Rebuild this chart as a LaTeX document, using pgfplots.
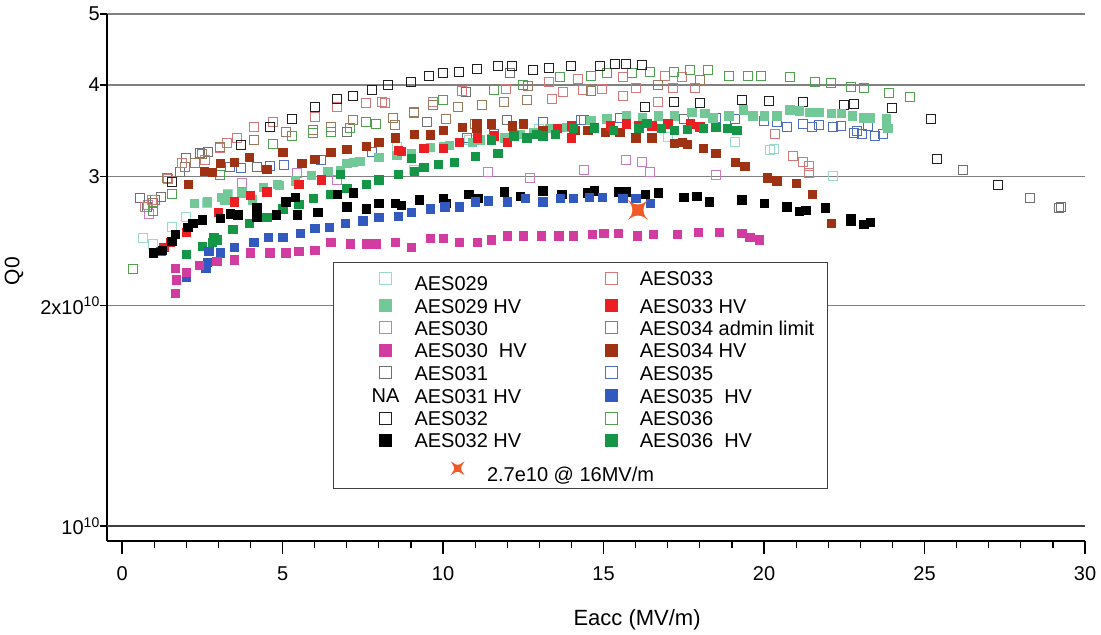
\documentclass[border=0pt]{standalone}
\usepackage{fontspec}
\setmainfont{Liberation Sans}
\usepackage{pgfplots}
\pgfplotsset{compat=1.18}

\definecolor{c029}{HTML}{9AD9CC}
\definecolor{c029hv}{HTML}{72C896}
\definecolor{c030}{HTML}{C87CBE}
\definecolor{c030hv}{HTML}{D23CA0}
\definecolor{c031}{HTML}{707070}
\definecolor{c032}{HTML}{202020}
\definecolor{c032hv}{HTML}{000000}
\definecolor{c033}{HTML}{D27878}
\definecolor{c033hv}{HTML}{EB1E23}
\definecolor{c034}{HTML}{9A7A5C}
\definecolor{c034hv}{HTML}{A03214}
\definecolor{c035}{HTML}{506EBE}
\definecolor{c035hv}{HTML}{325ABE}
\definecolor{c036}{HTML}{50A050}
\definecolor{c036hv}{HTML}{149646}
\definecolor{cstar}{HTML}{F05A28}

% four pointed star for the 16 MV/m target
\pgfdeclareplotmark{star4}{%
  \pgfpathmoveto{\pgfpoint{\pgfplotmarksize}{\pgfplotmarksize}}%
  \pgfpathquadraticcurveto{\pgfpoint{0pt}{0.15\pgfplotmarksize}}{\pgfpoint{-\pgfplotmarksize}{\pgfplotmarksize}}%
  \pgfpathquadraticcurveto{\pgfpoint{-0.15\pgfplotmarksize}{0pt}}{\pgfpoint{-\pgfplotmarksize}{-\pgfplotmarksize}}%
  \pgfpathquadraticcurveto{\pgfpoint{0pt}{-0.15\pgfplotmarksize}}{\pgfpoint{\pgfplotmarksize}{-\pgfplotmarksize}}%
  \pgfpathquadraticcurveto{\pgfpoint{0.15\pgfplotmarksize}{0pt}}{\pgfpoint{\pgfplotmarksize}{\pgfplotmarksize}}%
  \pgfpathclose
  \pgfusepathqfillstroke}

\pgfplotsset{
  op/.style={only marks, mark=square, mark size=4.5bp, mark options={line width=1bp, draw=#1, fill=none}, forget plot},
  fi/.style={only marks, mark=square*, mark size=4.2bp, mark options={draw=#1, fill=#1, line width=0.4bp}, forget plot},
}

\begin{document}
\begin{tikzpicture}
\useasboundingbox (0,0) rectangle (1101bp,635bp);
\begin{axis}[
    at={(107bp,94bp)}, anchor=south west,
    scale only axis, width=978bp, height=527bp,
    ymode=log,
    xmin=-0.47, xmax=30,
    ymin=0.9539, ymax=5,
    axis lines=left,
    axis line style={-, line width=1.3bp, black},
    xtick={0,5,...,30},
    minor x tick num=4,
    ytick={1,2,3,4,5},
    yticklabels={10\textsuperscript{10}, 2x10\textsuperscript{10}, 3, 4, 5},
    yminorticks=false,
    tick align=outside,
    major tick length=13bp, minor tick length=7bp,
    ytick style={/pgfplots/major tick length=7bp},
    tick style={line width=1.2bp, black},
    ymajorgrids,
    grid style={line width=1.3bp, black!50},
    /pgf/number format/assume math mode=true,
    tick label style={font=\fontsize{20bp}{24bp}\selectfont},
    xticklabel style={yshift=-9bp},
    yticklabel style={inner xsep=0bp, xshift=6bp},
    xlabel={Eacc (MV/m)},
    ylabel={Q0},
    xlabel style={font=\fontsize{22bp}{26bp}\selectfont, at={(axis description cs:0.542,-0.150)}, anchor=center},
    ylabel style={font=\fontsize{21bp}{25bp}\selectfont, at={(axis description cs:-0.0951,0.512)}, anchor=center},
    legend columns=2,
    legend cell align=left,
    legend image code/.code={\path[draw=none, fill=none] (-39bp,-5bp) rectangle (13bp,9bp); \draw[#1] plot coordinates {(0bp,2bp)};},
    legend style={at={(0.2311,0.5294)}, anchor=north west, draw=black!75, line width=1.2bp, fill=white,
      inner xsep=13bp, inner ysep=3bp, row sep=3.4bp,
      font=\fontsize{20bp}{24bp}\selectfont,
      nodes={inner xsep=0bp, inner ysep=0bp, text height=15bp, text depth=4bp},
      /tikz/every odd column/.append style={column sep=15bp},
      /tikz/every even column/.append style={column sep=46bp}},
]
\draw[line width=1.6bp, black!75] (axis cs:-0.47,1) -- (axis cs:30,1);

% open symbols (measurements without HV processing)
\addplot[op=c029] coordinates {(0.65,2.47)(0.97,2.43)(1.55,2.56)(2.0,2.64)(2.65,2.76)(3.3,2.84)(8.55,3.29)(9.1,3.06)(10.8,3.36)(13.0,3.48)(17.0,3.40)(19.1,3.34)(20.2,3.26)(20.3,3.27)(22.15,3.00)};
\addplot[op=c030] coordinates {(0.8,2.74)(0.85,2.67)(3.75,2.94)(5.45,3.03)(6.7,2.97)(11.4,3.04)(12.7,2.99)(14.4,3.06)(15.7,3.16)(16.2,3.14)(16.45,3.04)(18.5,3.01)};
\addplot[op=c031] coordinates {(0.56,2.80)(0.78,2.73)(1.03,2.79)(1.2,2.81)(1.8,3.04)(2.0,3.18)(2.43,3.23)(2.68,3.24)(4.2,3.09)(7.0,3.45)(9.5,3.56)(10.7,3.91)(12.1,4.15)(12.0,3.58)(14.4,3.58)(17.5,3.60)(26.2,3.06)(28.3,2.80)(29.2,2.72)(29.25,2.73)};
\addplot[op=c033] coordinates {(0.72,2.73)(0.93,2.79)(1.43,2.98)(1.87,3.13)(2.27,3.13)(2.58,3.16)(3.05,3.28)(3.27,3.33)(3.58,3.39)(4.1,3.50)(4.7,3.56)(6.0,3.62)(6.7,3.73)(7.6,3.78)(8.1,3.79)(8.2,3.78)(9.7,3.79)(10.6,3.93)(11.95,3.95)(13.3,4.04)(13.4,3.83)(13.75,3.91)(14.2,4.07)(14.35,3.94)(14.95,3.95)(15.6,4.10)(15.6,3.87)(16.0,3.96)(16.7,3.79)(16.9,4.12)(17.15,3.96)(17.45,4.10)(17.85,3.96)(20.35,3.43)(20.9,3.20)(21.2,3.14)(21.4,3.10)(21.4,3.03)};
\addplot[op=c034] coordinates {(0.97,2.76)(1.4,2.99)(1.96,3.09)(2.27,3.13)(2.5,3.22)(3.05,3.29)(4.1,3.37)(5.1,3.45)(5.95,3.47)(6.5,3.50)(7.2,3.58)(8.45,3.61)(8.5,3.53)(9.1,3.67)(9.1,3.66)(9.7,3.76)(10.1,3.60)(10.45,3.73)(11.0,3.54)(11.2,3.76)(11.9,3.79)(12.5,4.00)(12.6,3.82)(12.65,3.99)(14.6,3.92)(16.7,4.00)(18.0,4.06)};
\addplot[op=c035] coordinates {(3.35,3.09)(3.7,3.08)(4.6,3.10)(5.05,3.11)(6.2,3.16)(7.8,3.24)(10.75,3.39)(11.6,3.43)(13.1,3.56)(14.3,3.58)(15.5,3.61)(18.5,3.61)(19.1,3.60)(20.0,3.57)(20.4,3.56)(20.7,3.51)(21.2,3.54)(21.5,3.50)(21.7,3.53)(22.15,3.50)(22.4,3.52)(22.8,3.44)(22.9,3.46)(23.05,3.43)(23.25,3.52)(23.45,3.41)(23.7,3.43)};
\addplot[op=c036] coordinates {(0.34,2.24)(0.97,2.69)(1.55,2.84)(3.05,3.01)(4.7,3.32)(5.3,3.41)(5.95,3.44)(6.5,3.45)(7.1,3.49)(7.6,3.56)(7.9,3.54)(10.0,3.82)(11.6,3.94)(12.5,4.00)(13.65,4.10)(14.6,4.12)(15.1,4.15)(15.9,4.15)(16.45,4.17)(17.2,4.17)(17.7,4.19)(18.25,4.19)(18.9,4.12)(19.5,4.12)(19.9,4.11)(20.8,4.10)(21.6,4.04)(22.1,4.03)(22.7,3.98)(23.1,3.96)(23.9,3.90)(24.55,3.85)};
\addplot[op=c032] coordinates {(1.56,2.95)(3.7,3.31)(4.6,3.50)(5.3,3.60)(6.0,3.73)(6.7,3.83)(7.2,3.87)(7.8,3.94)(8.3,4.00)(9.0,4.04)(9.56,4.11)(10.0,4.15)(10.5,4.17)(11.06,4.21)(11.7,4.24)(12.15,4.25)(12.8,4.19)(13.3,4.22)(14.0,4.24)(14.9,4.25)(15.36,4.27)(15.7,4.27)(16.2,4.26)(16.3,3.73)(17.2,3.79)(18.0,3.78)(19.3,3.82)(20.15,3.80)(21.2,3.79)(22.5,3.76)(22.8,3.77)(24.0,3.72)(25.2,3.59)(25.4,3.17)(27.3,2.92)};

% filled symbols (after HV processing)
\addplot[fi=c029hv] coordinates {(2.25,2.76)(2.65,2.77)(3.1,2.81)(3.2,2.79)(3.27,2.84)(3.73,2.85)(4.05,2.79)(4.4,2.90)(4.83,2.93)(4.9,2.92)(5.4,2.96)(5.9,3.01)(6.4,3.05)(6.8,3.06)(7.0,3.13)(7.2,3.14)(7.4,3.15)(8.0,3.19)(8.55,3.21)(9.0,3.23)(9.6,3.29)(10.0,3.30)(10.2,3.31)(10.9,3.34)(11.15,3.37)(11.5,3.38)(11.9,3.39)(12.4,3.43)(12.8,3.45)(13.3,3.49)(13.85,3.50)(14.6,3.58)(15.1,3.60)(15.7,3.63)(16.2,3.61)(16.7,3.63)(17.2,3.63)(17.75,3.67)(18.15,3.66)(18.4,3.61)(18.9,3.63)(19.35,3.70)(19.65,3.63)(20.0,3.63)(20.4,3.63)(20.8,3.70)(21.1,3.69)(21.4,3.67)(21.7,3.67)(22.1,3.66)(22.4,3.66)(22.75,3.63)(23.1,3.61)(23.3,3.61)(23.8,3.53)(23.8,3.60)(23.85,3.49)};
\addplot[fi=c034hv] coordinates {(2.06,2.93)(2.55,3.05)(2.8,3.04)(3.05,3.13)(3.5,3.14)(3.96,3.19)(4.5,3.07)(5.0,3.24)(5.6,3.13)(6.0,3.17)(6.5,3.24)(7.0,3.27)(7.6,3.30)(8.0,3.34)(8.5,3.39)(9.1,3.43)(9.6,3.42)(10.0,3.47)(10.6,3.50)(11.05,3.54)(11.05,3.49)(11.5,3.54)(12.15,3.52)(12.5,3.54)(13.1,3.47)(14.1,3.47)(14.5,3.47)(15.05,3.45)(15.5,3.45)(16.0,3.39)(16.5,3.39)(17.2,3.33)(17.45,3.34)(17.6,3.32)(18.1,3.28)(18.5,3.23)(19.1,3.14)(19.4,3.10)(20.1,2.99)(20.4,2.96)(21.0,2.94)(21.5,2.84)(22.1,2.59)};
\addplot[fi=c033hv] coordinates {(1.2,2.37)(1.3,2.40)(1.5,2.44)(2.0,2.52)(3.0,2.68)(3.5,2.77)(4.0,2.83)(4.5,2.86)(5.5,2.93)(6.2,2.97)(8.6,3.26)(8.7,3.25)(9.4,3.28)(10.0,3.28)(10.5,3.34)(11.06,3.39)(11.6,3.41)(12.0,3.34)(13.1,3.41)(13.55,3.49)(14.0,3.52)(14.0,3.39)(14.7,3.50)(15.2,3.52)(15.7,3.54)(16.1,3.52)(16.5,3.52)(17.0,3.54)(17.7,3.54)(18.0,3.51)};
\addplot[fi=c036hv] coordinates {(2.0,2.35)(2.5,2.41)(2.8,2.44)(2.85,2.48)(2.95,2.46)(3.45,2.54)(3.96,2.59)(4.5,2.64)(5.0,2.71)(5.5,2.75)(5.95,2.80)(6.5,2.84)(6.8,3.02)(7.0,2.89)(7.6,2.93)(8.0,2.97)(8.6,3.02)(9.0,3.18)(9.1,3.05)(9.4,3.09)(9.85,3.12)(10.35,3.14)(11.0,3.20)(11.7,3.23)(11.5,3.37)(12.2,3.41)(12.6,3.39)(12.9,3.43)(13.1,3.41)(13.5,3.43)(14.05,3.49)(14.7,3.49)(15.3,3.47)(16.1,3.49)(16.35,3.55)(16.8,3.49)(17.2,3.47)(17.6,3.48)(18.1,3.49)(18.5,3.50)(18.85,3.49)(19.15,3.47)};
\addplot[fi=c032hv] coordinates {(0.97,2.36)(1.25,2.38)(1.55,2.45)(1.65,2.50)(2.05,2.56)(2.2,2.59)(2.5,2.62)(3.05,2.63)(3.36,2.67)(3.6,2.66)(4.2,2.72)(4.2,2.64)(4.8,2.66)(5.1,2.77)(5.4,2.81)(5.45,2.66)(6.1,2.68)(6.7,2.84)(7.0,2.73)(7.2,2.85)(7.6,2.71)(8.0,2.76)(8.5,2.76)(8.7,2.74)(9.25,2.79)(10.0,2.80)(10.1,2.76)(10.8,2.84)(11.1,2.80)(11.9,2.86)(12.4,2.82)(13.1,2.87)(13.7,2.84)(14.5,2.85)(14.7,2.87)(15.45,2.86)(15.7,2.86)(16.3,2.84)(16.7,2.85)(17.5,2.81)(17.9,2.82)(18.3,2.77)(19.3,2.79)(20.0,2.76)(20.7,2.73)(21.1,2.69)(21.3,2.70)(21.9,2.72)(22.7,2.63)(22.7,2.61)(23.1,2.58)(23.3,2.60)};
\addplot[fi=c035hv] coordinates {(2.0,2.19)(2.6,2.25)(2.65,2.29)(2.7,2.37)(3.05,2.36)(3.5,2.40)(4.1,2.44)(4.55,2.48)(5.0,2.48)(5.55,2.51)(6.0,2.55)(6.45,2.56)(6.95,2.59)(7.5,2.61)(8.0,2.64)(8.6,2.65)(9.0,2.68)(9.6,2.71)(10.05,2.73)(10.5,2.73)(11.0,2.77)(11.4,2.78)(12.0,2.77)(12.55,2.80)(13.1,2.77)(13.65,2.80)(14.05,2.80)(14.55,2.81)(14.95,2.81)(15.6,2.80)(16.0,2.80)(16.45,2.76)};
\addplot[fi=c030hv] coordinates {(1.65,2.25)(1.68,2.17)(1.65,2.08)(2.0,2.22)(2.4,2.27)(2.95,2.30)(3.5,2.31)(4.0,2.36)(4.6,2.36)(5.1,2.36)(5.5,2.37)(6.0,2.38)(6.5,2.44)(7.1,2.43)(7.6,2.43)(7.9,2.43)(8.5,2.44)(9.0,2.40)(9.6,2.47)(10.0,2.47)(10.5,2.44)(11.06,2.44)(11.5,2.46)(12.0,2.49)(12.5,2.49)(13.05,2.49)(13.6,2.49)(14.05,2.49)(14.65,2.50)(15.0,2.51)(15.45,2.51)(16.05,2.49)(16.55,2.50)(17.3,2.50)(17.95,2.52)(18.6,2.52)(19.3,2.51)(19.55,2.48)(19.85,2.46)};

% target point
\addplot[only marks, mark=star4, mark size=9bp, mark options={draw=cstar, fill=cstar}, forget plot] coordinates {(16.07,2.70)};

% legend, filled row by row
\addlegendimage{mark=square, mark size=6bp, draw=c029, line width=1bp}
\addlegendentry[text height=25bp]{AES029}
\addlegendimage{mark=square, mark size=6bp, draw=c033, line width=1bp}
\addlegendentry{AES033}
\addlegendimage{mark=square*, mark size=6bp, draw=c029hv, fill=c029hv}
\addlegendentry{AES029 HV}
\addlegendimage{mark=square*, mark size=6bp, draw=c033hv, fill=c033hv}
\addlegendentry{AES033 HV}
\addlegendimage{mark=square, mark size=6bp, draw=c030, line width=1bp}
\addlegendentry{AES030}
\addlegendimage{mark=square, mark size=6bp, draw=c034, line width=1bp}
\addlegendentry{AES034 admin limit}
\addlegendimage{mark=square*, mark size=6bp, draw=c030hv, fill=c030hv}
\addlegendentry{AES030\ \ HV}
\addlegendimage{mark=square*, mark size=6bp, draw=c034hv, fill=c034hv}
\addlegendentry{AES034 HV}
\addlegendimage{mark=square, mark size=6bp, draw=c031, line width=1bp}
\addlegendentry{AES031}
\addlegendimage{mark=square, mark size=6bp, draw=c035, line width=1bp}
\addlegendentry{AES035}
\addlegendimage{legend image code/.code={\path[draw=none, fill=none] (-39bp,-5bp) rectangle (13bp,9bp); \node[inner sep=0pt, anchor=base] at (0bp,-5bp) {NA};}}
\addlegendentry{AES031 HV}
\addlegendimage{mark=square*, mark size=6bp, draw=c035hv, fill=c035hv}
\addlegendentry{AES035\ \ HV}
\addlegendimage{mark=square, mark size=6bp, draw=c032, line width=1bp}
\addlegendentry{AES032}
\addlegendimage{mark=square, mark size=6bp, draw=c036, line width=1bp}
\addlegendentry{AES036}
\addlegendimage{mark=square*, mark size=6bp, draw=c032hv, fill=c032hv}
\addlegendentry{AES032 HV}
\addlegendimage{mark=square*, mark size=6bp, draw=c036hv, fill=c036hv}
\addlegendentry{AES036\ \ HV}
\addlegendimage{legend image code/.code={\path[draw=none, fill=none] (-39bp,-5bp) rectangle (13bp,9bp); \draw[overlay, cstar, fill=cstar] plot[mark=star4, mark size=5bp] coordinates {(72bp,2bp)};}}
\addlegendentry[text height=26bp]{\makebox[0pt][l]{\hspace*{72bp}2.7e10 @ 16MV/m}}
\end{axis}
\end{tikzpicture}
\end{document}
